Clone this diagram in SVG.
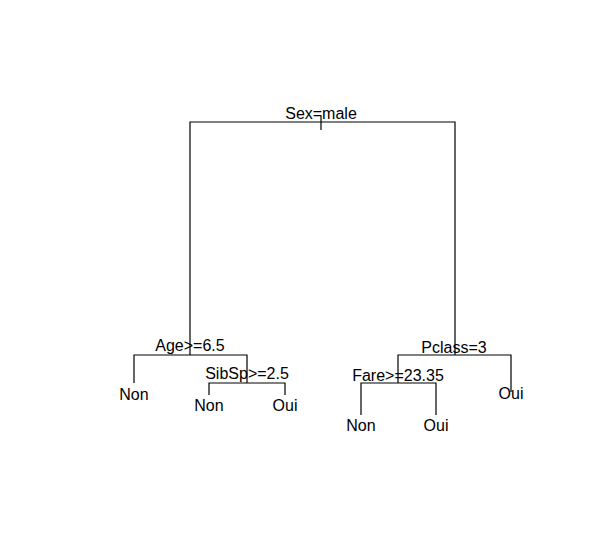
<svg xmlns="http://www.w3.org/2000/svg" width="607" height="557" viewBox="0 0 607 557">
<style>
text{font-family:"Liberation Sans",Arial,sans-serif;font-size:16px;fill:#000;text-anchor:middle}
.e{stroke:#000;stroke-width:1.2;fill:none}
</style>
<rect width="607" height="557" fill="#fff"/>
<g id="connectors">
<path class="e" d="M321,116V130M190,355V122H455V355"/>
<path class="e" d="M134,383V355H247V383"/>
<path class="e" d="M209,395V383H285V395"/>
<path class="e" d="M398,383V355H511V392"/>
<path class="e" d="M361,415V383H436V415"/>
</g>
<g id="n_root"><text x="321" y="119">Sex=male</text></g>
<g id="n_age"><text x="190" y="351">Age&gt;=6.5</text></g>
<g id="n_non1"><text x="134" y="400">Non</text></g>
<g id="n_sibsp"><text x="247" y="379">SibSp&gt;=2.5</text></g>
<g id="n_non2"><text x="209" y="411">Non</text></g>
<g id="n_oui1"><text x="285" y="411">Oui</text></g>
<g id="n_pclass"><text x="454" y="353">Pclass=3</text></g>
<g id="n_fare"><text x="398" y="381">Fare&gt;=23.35</text></g>
<g id="n_oui2"><text x="511" y="399">Oui</text></g>
<g id="n_non3"><text x="361" y="431">Non</text></g>
<g id="n_oui3"><text x="436" y="431">Oui</text></g>
</svg>
